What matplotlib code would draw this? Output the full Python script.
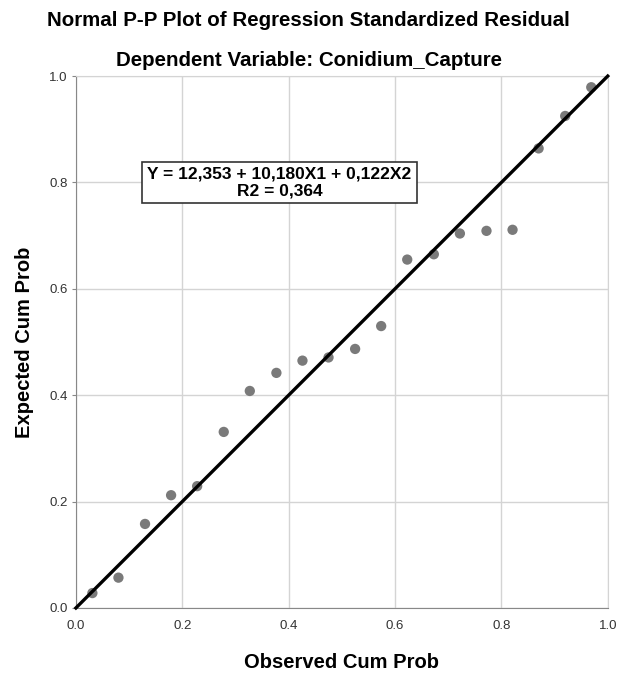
import matplotlib
matplotlib.use("Agg")
import matplotlib.pyplot as plt

plt.rcParams['font.family'] = ['Liberation Sans', 'DejaVu Sans']

# observed vs expected cumulative probabilities
observed = [0.031, 0.080, 0.130, 0.179, 0.228, 0.278, 0.327, 0.377, 0.426, 0.475,
            0.525, 0.574, 0.623, 0.673, 0.722, 0.772, 0.821, 0.870, 0.920, 0.969]
expected = [0.028, 0.057, 0.158, 0.212, 0.229, 0.331, 0.408, 0.442, 0.465, 0.471,
            0.487, 0.530, 0.655, 0.665, 0.704, 0.709, 0.711, 0.864, 0.925, 0.979]
ticks = [0.0, 0.2, 0.4, 0.6, 0.8, 1.0]
tick_labels = ['0.0', '0.2', '0.4', '0.6', '0.8', '1.0']

fig = plt.figure(figsize=(6.17, 6.75), dpi=100)
ax = fig.add_axes([0.123, 0.0993, 0.862, 0.788])

ax.set_xlim(0, 1)
ax.set_ylim(0, 1)
ax.set_xticks(ticks)
ax.set_yticks(ticks)
ax.set_xticklabels(tick_labels)
ax.set_yticklabels(tick_labels)
ax.grid(True, color='#d4d4d4', linewidth=1.0)
ax.set_axisbelow(True)

for side in ['top', 'right']:
    ax.spines[side].set_color('#d4d4d4')
for side in ['left', 'bottom']:
    ax.spines[side].set_color('#888888')

ax.tick_params(axis='x', length=0, pad=9, labelsize=9.5, colors='#333333')
ax.tick_params(axis='y', length=3, color='#888888', pad=3, labelsize=9.5, labelcolor='#333333')

ax.plot([0, 1], [0, 1], color='black', linewidth=2.4, zorder=3, clip_on=False)
ax.scatter(observed, expected, s=55, color='#7a7a7a', edgecolors='none', zorder=2)

ax.set_xlabel('Observed Cum Prob', fontsize=14.5, fontweight='bold', labelpad=15)
ax.set_ylabel('Expected Cum Prob', fontsize=14.5, fontweight='bold', labelpad=11)

fig.text(0.5, 0.969, 'Normal P-P Plot of Regression Standardized Residual',
         ha='center', va='center', fontsize=14.8, fontweight='bold')
fig.text(0.5, 0.910, 'Dependent Variable: Conidium_Capture',
         ha='center', va='center', fontsize=14.8, fontweight='bold')

ax.text(0.383, 0.800, 'Y = 12,353 + 10,180X1 + 0,122X2\nR2 = 0,364',
        ha='center', va='center', fontsize=12.5, fontweight='bold', linespacing=1.1,
        bbox=dict(boxstyle='square,pad=0.3', facecolor='white', edgecolor='#333333', linewidth=1.2),
        zorder=4)

fig.savefig('out.png', dpi=100)
